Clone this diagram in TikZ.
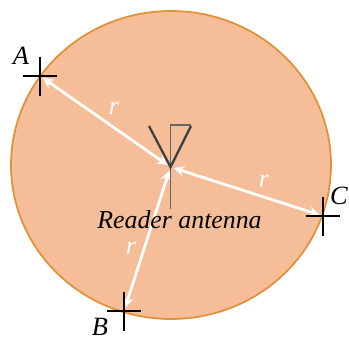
\documentclass[tikz,border=0pt]{standalone}
\usepackage{xcolor}
\usepackage{fontspec}
\setmainfont{Liberation Serif}
\usetikzlibrary{shapes.geometric,arrows.meta,positioning,calc}
\definecolor{cellfill}{HTML}{F5BD98}
\definecolor{celledge}{HTML}{E0923A}

\begin{document}
\begin{tikzpicture}[
    cell/.style={draw=celledge, fill=cellfill, ellipse, line width=1pt, minimum width=6.4cm, minimum height=6.16cm, inner sep=0pt},
    radius line/.style={draw=white, line width=1.6pt, {Stealth[length=6pt,width=6pt]}-{Stealth[length=6pt,width=6pt]}, shorten >=2pt, shorten <=2pt},
    crossbar/.style={draw=black, line width=1.2pt},
    mast/.style={draw=black!60, line width=1.1pt},
    dipole/.style={draw=black!75, line width=1.3pt},
    rlabel/.style={font=\itshape\fontsize{15}{15}\selectfont, text=white, inner sep=0pt},
    tag/.style={font=\itshape\fontsize{15}{15}\selectfont, inner sep=0pt}
]
\useasboundingbox (0,0) rectangle (6.98,6.8);
\node[cell] (cell) at (3.42,3.50) {};

\coordinate (hub) at (3.41,3.46);
\coordinate (A) at (0.80,5.28);
\coordinate (B) at (2.48,0.58);
\coordinate (C) at (6.46,2.48);

\draw[radius line] (hub) -- (A);
\draw[radius line] (hub) -- (B);
\draw[radius line] (hub) -- (C);

\coordinate (mast top) at (3.41,4.30);
\coordinate (mast foot) at (3.41,2.62);
\coordinate (flag) at (3.82,4.30);
\coordinate (left arm) at (2.98,4.28);
\coordinate (right arm) at (3.82,4.28);
\draw[mast] (mast foot) -- (mast top) -- (flag);
\draw[dipole] (left arm) -- (hub) -- (right arm);

\foreach \p in {A,B,C} {
    \draw[crossbar] ($(\p)+(-0.34,0)$) -- ($(\p)+(0.34,0)$);
    \draw[crossbar] ($(\p)+(0,0.39)$) -- ($(\p)+(0,-0.39)$);
}

\node[tag] (labela) at (0.42,5.68) {A};
\node[tag] (labelb) at (2.00,0.27) {B};
\node[tag] (labelc) at (6.78,2.88) {C};

\node[rlabel] (ra) at (2.28,4.64) {r};
\node[rlabel] (rb) at (2.62,1.84) {r};
\node[rlabel] (rc) at (5.28,3.18) {r};

\node[tag, font=\itshape\fontsize{14.7}{15}\selectfont] (reader) at (3.59,2.40) {Reader antenna};
\end{tikzpicture}
\end{document}
